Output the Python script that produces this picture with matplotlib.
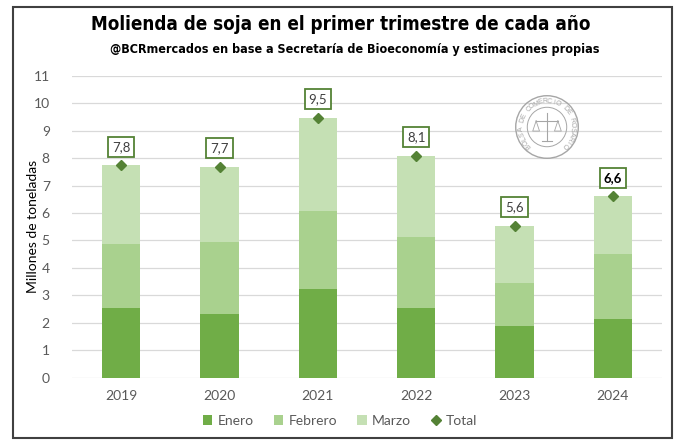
import numpy as np
import matplotlib
matplotlib.use("Agg")
import matplotlib.pyplot as plt
from matplotlib.patches import Rectangle, Circle

years = ["2019", "2020", "2021", "2022", "2023", "2024"]
enero = [2.53, 2.31, 3.23, 2.53, 1.89, 2.15]
febrero = [2.33, 2.64, 2.84, 2.61, 1.57, 2.35]
marzo = [2.88, 2.74, 3.40, 2.94, 2.08, 2.11]
total = [7.74, 7.69, 9.47, 8.08, 5.54, 6.61]
total_labels = ["7,8", "7,7", "9,5", "8,1", "5,6", "6,6"]

title = "Molienda de soja en el primer trimestre de cada año"
subtitle = "@BCRmercados en base a Secretaría de Bioeconomía y estimaciones propias"
ylabel = "Millones de toneladas"

c_ene = "#70AD47"
c_feb = "#A9D18E"
c_mar = "#C5E0B4"
c_tot = "#548235"
txt = "#595959"

W, H = 681, 444
fig = plt.figure(figsize=(W / 100, H / 100), dpi=100)
fig.patch.set_facecolor("white")

def fx(px):
    return px / W

def fy(py):
    return 1 - py / H

ax = fig.add_axes([fx(72), fy(377.7), fx(662) - fx(72), fy(75.7) - fy(377.7)])

x = np.arange(len(years))
bw = 0.39
h1 = ax.bar(x, enero, bw, color=c_ene, label="Enero", zorder=2)
b2 = np.array(enero)
h2 = ax.bar(x, febrero, bw, bottom=b2, color=c_feb, label="Febrero", zorder=2)
b3 = b2 + np.array(febrero)
h3 = ax.bar(x, marzo, bw, bottom=b3, color=c_mar, label="Marzo", zorder=2)
h4, = ax.plot(x, total, linestyle="none", marker="D", markersize=5, color=c_tot, label="Total", zorder=3)

for i, (xv, tv, lab) in enumerate(zip(x, total, total_labels)):
    last = i == len(years) - 1
    ax.annotate(lab, (xv, tv), xytext=(0, 9), textcoords="offset points",
                ha="center", va="bottom", fontsize=9.5, family="Lato",
                color="black" if last else "#404040",
                fontweight="bold" if last else "normal",
                bbox=dict(boxstyle="square,pad=0.3", fc="white", ec=c_tot, lw=1.3),
                zorder=4)

ax.set_xlim(-0.5, len(years) - 0.5)
ax.set_ylim(0, 11)
ax.set_yticks(range(0, 12))
ax.set_xticks(x)
ax.set_xticklabels(years)
ax.grid(axis="y", color="#D9D9D9", linewidth=0.9, zorder=0)
ax.set_axisbelow(True)
for s in ax.spines.values():
    s.set_visible(False)
ax.tick_params(axis="both", length=0, labelsize=10, labelcolor=txt)
ax.tick_params(axis="y", pad=16)
ax.tick_params(axis="x", pad=9)
for t in ax.get_xticklabels() + ax.get_yticklabels():
    t.set_family("Lato")
fig.text(fx(33), fy(226), ylabel, rotation=90, ha="center", va="center",
         fontsize=10, color="black", family="Lato")

leg = fig.legend([h1, h2, h3, h4], ["Enero", "Febrero", "Marzo", "Total"],
                 loc="center", bbox_to_anchor=(fx(340), fy(421)),
                 ncol=4, frameon=False, handlelength=0.7,
                 handletextpad=0.4, columnspacing=1.4,
                 prop={"family": "Lato", "size": 10})
for t in leg.get_texts():
    t.set_color(txt)

fig.text(fx(341), fy(25), title, ha="center", va="center", fontsize=13.5,
         fontweight="bold", family="DejaVu Sans", fontstretch="condensed", color="black")
fig.text(fx(355), fy(50), subtitle, ha="center", va="center", fontsize=9,
         fontweight="bold", family="DejaVu Sans", fontstretch="condensed", color="black")

# border frame
fig.add_artist(Rectangle((fx(13), fy(438)), fx(672) - fx(13), fy(7) - fy(438),
                         transform=fig.transFigure, fill=False, ec="#404040", lw=1.5))

# watermark logo
cx, cy = 547, 127
lc = "#A6A6A6"
logo = fig.add_axes([fx(cx - 34), fy(cy + 34), fx(68), fx(68) * W / H])
logo.set_xlim(-1, 1)
logo.set_ylim(-1, 1)
logo.set_aspect("equal")
logo.axis("off")
logo.add_patch(Circle((0, 0), 0.92, fill=False, ec=lc, lw=1.0))
logo.add_patch(Circle((0, 0), 0.58, fill=False, ec=lc, lw=0.7))
word = "BOLSA DE COMERCIO DE ROSARIO"
angs = np.linspace(225, -45, len(word))
for ch, a in zip(word, angs):
    r = 0.75
    logo.text(r * np.cos(np.radians(a)), r * np.sin(np.radians(a)), ch,
              rotation=a - 90, ha="center", va="center", fontsize=5,
              color=lc, family="Liberation Sans")
# scales symbol
logo.plot([0, 0], [-0.42, 0.42], color=lc, lw=0.8)
logo.plot([-0.32, 0.32], [0.18, 0.18], color=lc, lw=0.8)
logo.plot([-0.32, -0.42, -0.22, -0.32], [0.18, -0.12, -0.12, 0.18], color=lc, lw=0.6)
logo.plot([0.32, 0.22, 0.42, 0.32], [0.18, -0.12, -0.12, 0.18], color=lc, lw=0.6)
logo.plot([-0.14, 0.14], [-0.42, -0.42], color=lc, lw=0.8)

fig.savefig("out.png", dpi=100, facecolor="white")
